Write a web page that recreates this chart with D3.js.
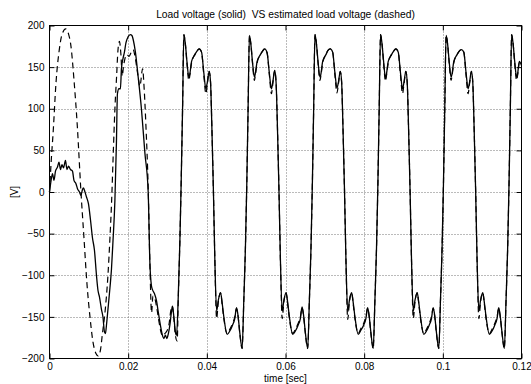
<!DOCTYPE html>
<html>
<head>
<meta charset="utf-8">
<script src="https://cdn.jsdelivr.net/npm/d3@7"></script>
<style>
	body{margin:0;background:#fff;}
	text{font-family:"Liberation Sans",Arial,sans-serif;fill:#000;}
</style>
</head>
<body>
<svg id="chart"></svg>
<script>

const xTicks = [0, 0.02, 0.04, 0.06, 0.08, 0.1, 0.12];
const yTicks = [-200, -150, -100, -50, 0, 50, 100, 150, 200];

// load voltage (solid), time in sec
const solidTime = [
	0.00000, 0.00051, 0.00076, 0.00114, 0.00152, 0.00203, 0.00241, 0.00279, 0.00317, 0.00356,
	0.00406, 0.00444, 0.00483, 0.00533, 0.00584, 0.00622, 0.00673, 0.00711, 0.00762, 0.00800,
	0.00838, 0.00863, 0.00902, 0.00940, 0.00990, 0.01041, 0.01092, 0.01143, 0.01194, 0.01232,
	0.01270, 0.01321, 0.01359, 0.01397, 0.01422, 0.01448, 0.01486, 0.01537, 0.01575, 0.01613,
	0.01663, 0.01702, 0.01727, 0.01765, 0.01803, 0.01829, 0.01867, 0.01905, 0.01943, 0.01994,
	0.02057, 0.02095, 0.02133, 0.02184, 0.02248, 0.02337, 0.02425, 0.02509, 0.02552, 0.02590,
	0.02616, 0.02667, 0.02717, 0.02768, 0.02819, 0.02870, 0.02908, 0.02946, 0.02984, 0.03022,
	0.03060, 0.03098, 0.03124, 0.03162, 0.03200, 0.03230, 0.03274, 0.03314, 0.03347, 0.03383,
	0.03416, 0.03454, 0.03492, 0.03543, 0.03568, 0.03612, 0.03695, 0.03746, 0.03805, 0.03866, 0.03924, 0.03975, 0.04013, 0.04059, 0.04094, 0.04127, 0.04168, 0.04203, 0.04249, 0.04292, 0.04348, 0.04394, 0.04432, 0.04516, 0.04584, 0.04653, 0.04711, 0.04754, 0.04795, 0.04838, 0.04897, 0.04940, 0.04980, 0.05016, 0.05049,
	0.05083, 0.05121, 0.05159, 0.05210, 0.05235, 0.05279, 0.05362, 0.05413, 0.05472, 0.05533, 0.05591, 0.05642, 0.05680, 0.05726, 0.05761, 0.05794, 0.05835, 0.05870, 0.05916, 0.05959, 0.06015, 0.06061, 0.06099, 0.06183, 0.06251, 0.06320, 0.06378, 0.06421, 0.06462, 0.06505, 0.06564, 0.06607, 0.06647, 0.06683, 0.06716,
	0.06749, 0.06787, 0.06825, 0.06876, 0.06901, 0.06945, 0.07028, 0.07079, 0.07138, 0.07199, 0.07257, 0.07308, 0.07346, 0.07392, 0.07427, 0.07460, 0.07501, 0.07536, 0.07582, 0.07625, 0.07681, 0.07727, 0.07765, 0.07849, 0.07917, 0.07986, 0.08044, 0.08087, 0.08128, 0.08171, 0.08230, 0.08273, 0.08313, 0.08349, 0.08382,
	0.08416, 0.08454, 0.08492, 0.08543, 0.08568, 0.08612, 0.08695, 0.08746, 0.08805, 0.08866, 0.08924, 0.08975, 0.09013, 0.09059, 0.09094, 0.09127, 0.09168, 0.09203, 0.09249, 0.09292, 0.09348, 0.09394, 0.09432, 0.09516, 0.09584, 0.09653, 0.09711, 0.09754, 0.09795, 0.09838, 0.09897, 0.09940, 0.09980, 0.10016, 0.10049,
	0.10083, 0.10121, 0.10159, 0.10210, 0.10235, 0.10279, 0.10362, 0.10413, 0.10472, 0.10533, 0.10591, 0.10642, 0.10680, 0.10726, 0.10761, 0.10794, 0.10835, 0.10870, 0.10916, 0.10959, 0.11015, 0.11061, 0.11099, 0.11183, 0.11251, 0.11320, 0.11378, 0.11421, 0.11462, 0.11505, 0.11564, 0.11607, 0.11647, 0.11683, 0.11716,
	0.11749, 0.11787, 0.11825, 0.11876, 0.11901, 0.11945, 0.12000
];
const solidVolt = [
	0, 17, 22, 14, 25, 30, 36, 27, 33, 29,
	38, 27, 31, 27, 25, 14, 10, 4, 0, -4,
	3, 5, 0, -6, -14, -33, -55, -70, -100, -118,
	-126, -141, -150, -168, -170, -160, -141, -115, -93, -60,
	-10, 60, 118, 124, 124, 148, 160, 168, 179, 186,
	189, 188, 182, 168, 141, 100, 47, 0, -85, -112,
	-117, -122, -130, -145, -160, -172, -176, -172, -176, -170,
	-160, -145, -137, -150, -168, -172, -125, -60, 10, 100,
	189, 178, 158, 138, 142, 157, 165, 169, 172, 168, 143, 124, 132, 145, 132, 80, 0, -80, -143, -130, -121, -135, -150, -171, -167, -160, -152, -139, -149, -169, -188, -130, -69, 10, 100,
	188, 177, 157, 138, 143, 157, 165, 169, 172, 167, 142, 124, 133, 146, 131, 80, 0, -80, -143, -130, -121, -135, -150, -171, -167, -160, -152, -138, -149, -169, -188, -130, -69, 10, 100,
	189, 178, 158, 138, 142, 157, 165, 170, 172, 168, 143, 125, 132, 145, 132, 80, 0, -80, -144, -130, -121, -135, -150, -171, -166, -160, -152, -139, -149, -169, -188, -130, -69, 10, 100,
	189, 178, 158, 137, 142, 157, 165, 169, 172, 168, 143, 124, 132, 145, 132, 80, 0, -80, -143, -130, -121, -135, -150, -171, -167, -160, -152, -139, -149, -169, -188, -130, -69, 10, 100,
	188, 178, 158, 138, 142, 157, 165, 169, 171, 168, 143, 124, 132, 145, 132, 80, 0, -80, -143, -130, -121, -135, -150, -171, -167, -160, -152, -139, -150, -169, -188, -130, -69, 10, 100,
	189, 178, 158, 138, 142, 157, 152
];

// estimated load voltage (dashed)
const dashTime = [
	0.00000, 0.00038, 0.00097, 0.00165, 0.00249, 0.00317, 0.00411, 0.00483, 0.00546, 0.00622,
	0.00706, 0.00800, 0.00876, 0.00952, 0.01029, 0.01105, 0.01181, 0.01239, 0.01295, 0.01346,
	0.01410, 0.01486, 0.01537, 0.01580, 0.01620, 0.01663, 0.01706, 0.01740, 0.01778, 0.01816,
	0.01849, 0.01879, 0.01917, 0.01968, 0.02019, 0.02070, 0.02128, 0.02184, 0.02248, 0.02298,
	0.02367, 0.02408, 0.02451, 0.02509, 0.02552, 0.02595, 0.02629, 0.02679, 0.02730, 0.02781,
	0.02832, 0.02883, 0.02934, 0.02984, 0.03035, 0.03086, 0.03124, 0.03162, 0.03200, 0.03246,
	0.03276, 0.03314, 0.03347, 0.03383,
	0.03416, 0.03454, 0.03492, 0.03543, 0.03568, 0.03612, 0.03695, 0.03746, 0.03805, 0.03866, 0.03924, 0.03975, 0.04013, 0.04059, 0.04094, 0.04127, 0.04168, 0.04203, 0.04249, 0.04292, 0.04348, 0.04394, 0.04432, 0.04516, 0.04584, 0.04653, 0.04711, 0.04754, 0.04795, 0.04838, 0.04897, 0.04940, 0.04980, 0.05016, 0.05049,
	0.05083, 0.05121, 0.05159, 0.05210, 0.05235, 0.05279, 0.05362, 0.05413, 0.05472, 0.05533, 0.05591, 0.05642, 0.05680, 0.05726, 0.05761, 0.05794, 0.05835, 0.05870, 0.05916, 0.05959, 0.06015, 0.06061, 0.06099, 0.06183, 0.06251, 0.06320, 0.06378, 0.06421, 0.06462, 0.06505, 0.06564, 0.06607, 0.06647, 0.06683, 0.06716,
	0.06749, 0.06787, 0.06825, 0.06876, 0.06901, 0.06945, 0.07028, 0.07079, 0.07138, 0.07199, 0.07257, 0.07308, 0.07346, 0.07392, 0.07427, 0.07460, 0.07501, 0.07536, 0.07582, 0.07625, 0.07681, 0.07727, 0.07765, 0.07849, 0.07917, 0.07986, 0.08044, 0.08087, 0.08128, 0.08171, 0.08230, 0.08273, 0.08313, 0.08349, 0.08382,
	0.08416, 0.08454, 0.08492, 0.08543, 0.08568, 0.08612, 0.08695, 0.08746, 0.08805, 0.08866, 0.08924, 0.08975, 0.09013, 0.09059, 0.09094, 0.09127, 0.09168, 0.09203, 0.09249, 0.09292, 0.09348, 0.09394, 0.09432, 0.09516, 0.09584, 0.09653, 0.09711, 0.09754, 0.09795, 0.09838, 0.09897, 0.09940, 0.09980, 0.10016, 0.10049,
	0.10083, 0.10121, 0.10159, 0.10210, 0.10235, 0.10279, 0.10362, 0.10413, 0.10472, 0.10533, 0.10591, 0.10642, 0.10680, 0.10726, 0.10761, 0.10794, 0.10835, 0.10870, 0.10916, 0.10959, 0.11015, 0.11061, 0.11099, 0.11183, 0.11251, 0.11320, 0.11378, 0.11421, 0.11462, 0.11505, 0.11564, 0.11607, 0.11647, 0.11683, 0.11716,
	0.11749, 0.11787, 0.11825, 0.11876, 0.11901, 0.11945, 0.12000
];
const dashVolt = [
	0, 33, 75, 131, 171, 189, 196, 190, 175, 135,
	80, 0, -55, -110, -150, -180, -194, -197, -190, -170,
	-145, -100, -55, -10, 45, 100, 139, 170, 181, 165,
	139, 150, 160, 165, 163, 167, 171, 160, 140, 127,
	148, 123, 80, 5, -85, -145, -125, -128, -140, -155,
	-168, -173, -170, -167, -160, -142, -137, -152, -172, -179,
	-125, -60, 10, 100,
	189, 178, 156, 134, 140, 155, 165, 169, 172, 168, 140, 118, 130, 145, 132, 80, 0, -80, -152, -132, -121, -137, -152, -170, -165, -158, -150, -140, -150, -170, -188, -130, -69, 10, 100,
	188, 177, 156, 134, 141, 155, 165, 169, 172, 167, 140, 118, 131, 146, 131, 80, 0, -80, -152, -132, -121, -137, -152, -170, -165, -158, -150, -139, -150, -170, -188, -130, -69, 10, 100,
	189, 178, 156, 134, 140, 155, 165, 170, 172, 168, 140, 119, 130, 145, 132, 80, 0, -80, -153, -132, -121, -137, -152, -170, -164, -158, -150, -140, -150, -170, -188, -130, -69, 10, 100,
	189, 178, 156, 133, 140, 155, 165, 169, 172, 168, 140, 118, 130, 145, 132, 80, 0, -80, -152, -132, -121, -137, -152, -170, -165, -158, -150, -140, -150, -170, -188, -130, -69, 10, 100,
	188, 178, 156, 134, 140, 155, 165, 169, 171, 168, 140, 118, 130, 145, 132, 80, 0, -80, -152, -132, -121, -137, -152, -170, -165, -158, -150, -140, -151, -170, -188, -130, -69, 10, 100,
	189, 178, 156, 134, 140, 155, 150
];

const w = 531;
const h = 384;
const mLeft = 49.5, mRight = 521.5, mTop = 25.5, mBottom = 358.5;

let svg = d3.select("#chart")
			.attr("width", w)
			.attr("height", h);

let x = d3.scaleLinear()
			.domain([0, 0.12])
			.range([mLeft, mRight]);

let y = d3.scaleLinear()
			.domain([-200, 200])
			.range([mBottom, mTop]);

let fmtX = d3.format("~g");

/* ***Grid*** */
let grid = svg.append("g")
			.attr("class","grid");

grid.selectAll("line.gx")
	.data(xTicks.slice(1, -1))
	.enter()
	.append("line")
	.attr("class", "gx")
	.attr("x1", d=>Math.round(x(d)) + 0.5)
	.attr("x2", d=>Math.round(x(d)) + 0.5)
	.attr("y1", mTop)
	.attr("y2", mBottom)
	.attr("stroke", "#777")
	.attr("stroke-dasharray", "1,2");

grid.selectAll("line.gy")
	.data(yTicks.slice(1, -1))
	.enter()
	.append("line")
	.attr("class", "gy")
	.attr("x1", mLeft)
	.attr("x2", mRight)
	.attr("y1", d=>Math.round(y(d)) + 0.5)
	.attr("y2", d=>Math.round(y(d)) + 0.5)
	.attr("stroke", "#777")
	.attr("stroke-dasharray", "1,2");

/* ***Axes, ticks pointing inward*** */
svg.append("g")
	.attr("transform", `translate(0,${mBottom})`)
	.call(d3.axisBottom(x).tickValues(xTicks).tickFormat(fmtX).tickSize(-5).tickPadding(4.5));

svg.append("g")
	.attr("transform", `translate(0,${mTop})`)
	.call(d3.axisTop(x).tickValues(xTicks).tickFormat("").tickSize(-5));

svg.append("g")
	.attr("transform", `translate(${mLeft},0)`)
	.call(d3.axisLeft(y).tickValues(yTicks).tickSize(-5).tickPadding(5));

svg.append("g")
	.attr("transform", `translate(${mRight},0)`)
	.call(d3.axisRight(y).tickValues(yTicks).tickFormat("").tickSize(-5));

svg.selectAll(".domain").remove();
svg.selectAll(".tick text")
	.attr("font-size", 10)
	.attr("font-family", "Liberation Sans, Arial, sans-serif");

/* ***Lines*** */
let line = d3.line()
			.x(d=>x(d[0]))
			.y(d=>y(d[1]))
			.curve(d3.curveMonotoneX);

svg.append("path")
	.datum(solidTime.map((t,i)=>[t, solidVolt[i]]))
	.attr("d", line)
	.attr("fill", "none")
	.attr("stroke", "#000")
	.attr("stroke-width", 1.3);

svg.append("path")
	.datum(dashTime.map((t,i)=>[t, dashVolt[i]]))
	.attr("d", line)
	.attr("fill", "none")
	.attr("stroke", "#000")
	.attr("stroke-width", 1.2)
	.attr("stroke-dasharray", "6,4");

/* ***Box*** */
svg.append("rect")
	.attr("x", mLeft)
	.attr("y", mTop)
	.attr("width", mRight - mLeft)
	.attr("height", mBottom - mTop)
	.attr("fill", "none")
	.attr("stroke", "#000")
	.attr("stroke-width", 1);

/* ***Labels*** */
svg.append("text")
	.attr("x", (mLeft + mRight)/2)
	.attr("y", 18)
	.attr("text-anchor", "middle")
	.attr("font-size", 10.3)
	.style("white-space", "pre")
	.text("Load voltage (solid)  VS estimated load voltage (dashed)");

svg.append("text")
	.attr("x", (mLeft + mRight)/2)
	.attr("y", 382)
	.attr("text-anchor", "middle")
	.attr("font-size", 10)
	.text("time [sec]");

svg.append("text")
	.attr("transform", `translate(18,${(mTop + mBottom)/2}) rotate(-90)`)
	.attr("text-anchor", "middle")
	.attr("font-size", 10)
	.text("[V]");

</script>
</body>
</html>
